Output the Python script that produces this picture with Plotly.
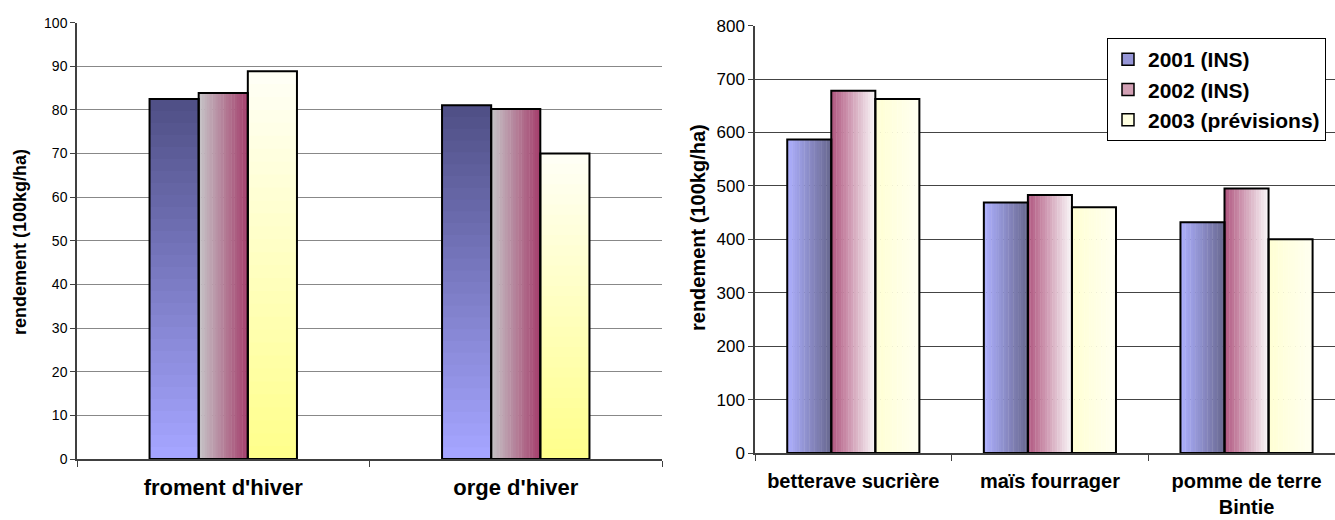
import plotly.graph_objects as go

# ---------------- data ----------------
cats_left = ["froment d'hiver", "orge d'hiver"]
cats_right = ["betterave sucrière", "maïs fourrager", "pomme de terre<br>Bintie"]
series_names = ["2001 (INS)", "2002 (INS)", "2003 (prévisions)"]

left_2001 = [82.5, 81.1]
left_2002 = [83.9, 80.2]
left_2003 = [88.9, 70.0]

right_2001 = [587, 469, 432]
right_2002 = [678, 483, 495]
right_2003 = [663, 460, 400]

left_ticks = list(range(0, 101, 10))
right_ticks = list(range(0, 801, 100))

# ---------------- helpers ----------------
W, H = 1335, 520
FONT = "Liberation Sans, Arial, sans-serif"


def mix(c0, c1, t):
    return "rgb(%d,%d,%d)" % tuple(round(a + (b - a) * t) for a, b in zip(c0, c1))


def hgrad(fig, x, y, xa, ya, offset, width, c0, c1, n=18):
    """horizontal gradient: bar split into n vertical strips"""
    step = width / n
    for i in range(n):
        t = i / (n - 1)
        w = step * 1.15 if i < n - 1 else step
        fig.add_trace(go.Bar(x=x, y=y, offset=offset + i * step, width=w,
                             marker=dict(color=mix(c0, c1, t), line=dict(width=0)),
                             showlegend=False, hoverinfo="skip", xaxis=xa, yaxis=ya))


def vgrad(fig, x, y, xa, ya, offset, width, c_top, c_bot, n=30):
    """vertical gradient: nested bars of decreasing height"""
    for i in range(n):
        frac = 1 - i / n
        t = i / (n - 1)
        fig.add_trace(go.Bar(x=x, y=[v * frac for v in y], offset=offset, width=width,
                             marker=dict(color=mix(c_top, c_bot, t), line=dict(width=0)),
                             showlegend=False, hoverinfo="skip", xaxis=xa, yaxis=ya))


def outline(fig, x, y, xa, ya, offset, width):
    fig.add_trace(go.Bar(x=x, y=y, offset=offset, width=width,
                         marker=dict(color="rgba(0,0,0,0)", line=dict(color="black", width=2)),
                         showlegend=False, hoverinfo="skip", xaxis=xa, yaxis=ya))


fig = go.Figure()

# ---------------- left chart ----------------
bwL = 0.168
offL = [-1.5 * bwL, -0.5 * bwL, 0.5 * bwL]
vgrad(fig, cats_left, left_2001, "x", "y", offL[0], bwL, (80, 80, 135), (165, 165, 255))
hgrad(fig, cats_left, left_2002, "x", "y", offL[1], bwL, (196, 192, 196), (165, 65, 110))
vgrad(fig, cats_left, left_2003, "x", "y", offL[2], bwL, (255, 255, 245), (255, 255, 140))
for vals, o in zip([left_2001, left_2002, left_2003], offL):
    outline(fig, cats_left, vals, "x", "y", o, bwL)

# ---------------- right chart ----------------
bwR = 0.224
offR = [-1.5 * bwR, -0.5 * bwR, 0.5 * bwR]
hgrad(fig, cats_right, right_2001, "x2", "y2", offR[0], bwR, (172, 174, 252), (105, 105, 145))
hgrad(fig, cats_right, right_2002, "x2", "y2", offR[1], bwR, (178, 90, 130), (248, 244, 246))
hgrad(fig, cats_right, right_2003, "x2", "y2", offR[2], bwR, (255, 255, 212), (255, 255, 240))
for vals, o in zip([right_2001, right_2002, right_2003], offR):
    outline(fig, cats_right, vals, "x2", "y2", o, bwR)

# legend entries
legend_cols = ["rgb(150,150,215)", "rgb(210,160,180)", "rgb(255,255,225)"]
for i, (name, col) in enumerate(zip(series_names, legend_cols)):
    fig.add_trace(go.Bar(x=cats_right, y=[None] * len(cats_right), name=name,
                         marker=dict(color=col, line=dict(color="black", width=1.5)),
                         legendgroup=str(i), showlegend=True, hoverinfo="skip",
                         xaxis="x2", yaxis="y2"))

axis_common = dict(showline=True, linecolor="#404040", linewidth=1.5, automargin=False,
                   ticks="outside", tickcolor="#404040", zeroline=False)

fig.update_layout(
    width=W, height=H,
    margin=dict(l=0, r=0, t=0, b=0, autoexpand=False),
    paper_bgcolor="white", plot_bgcolor="white",
    barmode="overlay",
    font=dict(family=FONT, color="black"),
    showlegend=True,
    legend=dict(x=1326 / W, y=1 - 38 / H, xanchor="right", yanchor="top",
                bgcolor="white", bordercolor="black", borderwidth=1,
                font=dict(size=21, family=FONT, color="black", weight="bold"),
                tracegroupgap=15, traceorder="normal", itemwidth=30),
    xaxis=dict(type="category", domain=[77 / W, 662 / W], range=[-0.5, 1.5],
               anchor="y", tickson="boundaries", ticklen=6, showgrid=False,
               tickfont=dict(size=22, weight="bold"), ticklabelstandoff=8,
               **axis_common),
    yaxis=dict(domain=[1 - 459 / H, 1 - 22.7 / H], range=[0, 100],
               tickvals=left_ticks, ticklen=5, anchor="x",
               showgrid=True, gridcolor="#888888", gridwidth=1,
               tickfont=dict(size=14), **axis_common),
    xaxis2=dict(type="category", domain=[755 / W, 1.0], range=[-0.5, 2.45],
                anchor="y2", tickson="boundaries", ticklen=6, showgrid=False,
                tickfont=dict(size=20, weight="bold"), ticklabelstandoff=9,
                **axis_common),
    yaxis2=dict(domain=[1 - 453 / H, 1 - 25.7 / H], range=[0, 800],
                tickvals=right_ticks, ticklen=5, anchor="x2",
                showgrid=True, gridcolor="#444444", gridwidth=1,
                tickfont=dict(size=17), **axis_common),
    annotations=[
        dict(text="rendement (100kg/ha)", x=20 / W, y=1 - 242 / H, xref="paper", yref="paper",
             textangle=-90, showarrow=False, xanchor="center", yanchor="middle",
             font=dict(size=18, weight="bold", family=FONT)),
        dict(text="rendement (100kg/ha)", x=698 / W, y=1 - 228 / H, xref="paper", yref="paper",
             textangle=-90, showarrow=False, xanchor="center", yanchor="middle",
             font=dict(size=20, weight="bold", family=FONT)),
    ],
)

fig.write_html("out.html", post_script="document.body.style.margin='0';",
               config={"displayModeBar": False})
